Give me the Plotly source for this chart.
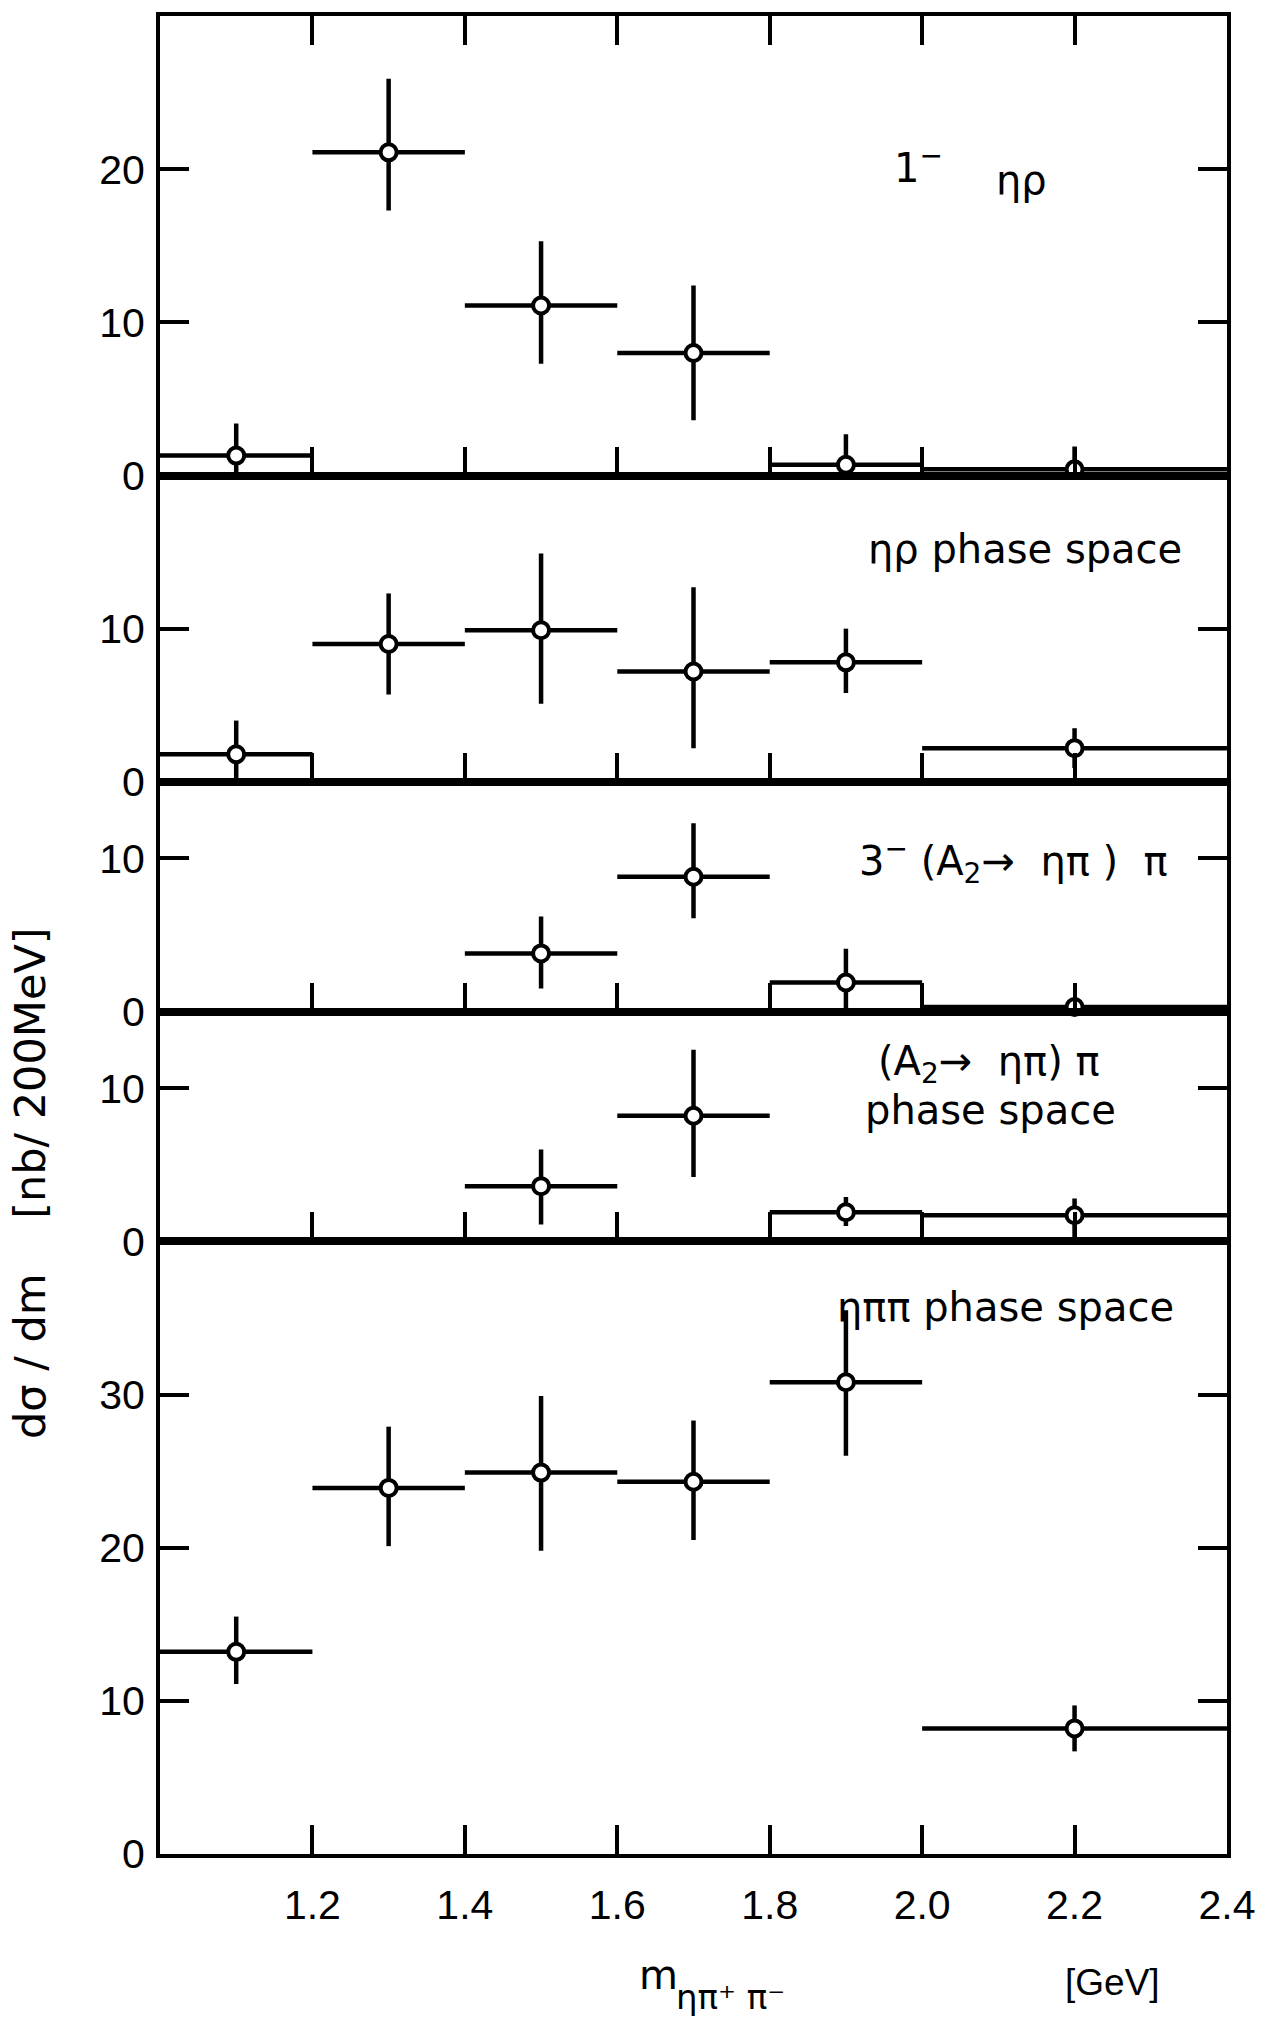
import plotly.graph_objects as go
from plotly.subplots import make_subplots

# ---- data ----
mass_all = [1.1, 1.3, 1.5, 1.7, 1.9, 2.2]
half_all = [0.1, 0.1, 0.1, 0.1, 0.1, 0.2]
mass_hi = [1.5, 1.7, 1.9, 2.2]
half_hi = [0.1, 0.1, 0.1, 0.2]

# panel 1: 1- eta rho
p1_y = [1.3, 21.1, 11.1, 8.0, 0.7, 0.4]
p1_up = [2.1, 4.8, 4.2, 4.4, 2.0, 1.5]
p1_dn = [1.3, 3.8, 3.8, 4.4, 0.7, 0.4]

# panel 2: eta rho phase space
p2_y = [1.8, 9.0, 9.9, 7.2, 7.8, 2.2]
p2_up = [2.2, 3.3, 5.0, 5.5, 2.2, 1.3]
p2_dn = [1.8, 3.3, 4.8, 5.0, 2.0, 1.3]

# panel 3: 3- (A2 -> eta pi) pi
p3_y = [3.8, 8.8, 1.9, 0.3]
p3_up = [2.4, 3.5, 2.2, 0.3]
p3_dn = [2.3, 2.7, 1.9, 0.3]

# panel 4: (A2 -> eta pi) pi phase space
p4_y = [3.6, 8.2, 1.9, 1.7]
p4_up = [2.4, 4.3, 1.0, 1.1]
p4_dn = [2.5, 4.0, 0.9, 1.7]

# panel 5: eta pi pi phase space
p5_y = [13.2, 23.9, 24.9, 24.3, 30.8, 8.2]
p5_up = [2.3, 4.0, 5.0, 4.0, 4.7, 1.5]
p5_dn = [2.1, 3.8, 5.1, 3.8, 4.8, 1.5]

x_tickvals = [1.2, 1.4, 1.6, 1.8, 2.0, 2.2, 2.4]
x_ticktext = ["1.2", "1.4", "1.6", "1.8", "2.0", "2.2", "2.4"]
y_ranges = [[0, 30], [0, 20], [0, 15], [0, 15], [0, 40]]
y_tickvals = [[0, 10, 20], [0, 10], [0, 10], [0, 10], [0, 10, 20, 30]]

panels = [
    (mass_all, half_all, p1_y, p1_up, p1_dn),
    (mass_all, half_all, p2_y, p2_up, p2_dn),
    (mass_hi, half_hi, p3_y, p3_up, p3_dn),
    (mass_hi, half_hi, p4_y, p4_up, p4_dn),
    (mass_all, half_all, p5_y, p5_up, p5_dn),
]

fig = make_subplots(rows=5, cols=1, shared_xaxes=True, vertical_spacing=0,
                    row_heights=[30, 20, 15, 15, 40])

for i, (mx, hw, yy, up, dn) in enumerate(panels):
    fig.add_trace(go.Scatter(
        x=mx, y=yy, mode="markers",
        marker=dict(symbol="circle", size=16, color="white",
                    line=dict(color="black", width=4)),
        error_x=dict(type="data", array=hw, symmetric=True,
                     color="black", thickness=4.5, width=0),
        error_y=dict(type="data", array=up, arrayminus=dn, symmetric=False,
                     color="black", thickness=4.5, width=0),
        showlegend=False, cliponaxis=False,
    ), row=i + 1, col=1)

tick_font = dict(family="Liberation Sans, Arial, sans-serif", size=41, color="black")
for r in range(1, 6):
    fig.update_xaxes(
        row=r, col=1, range=[1.0, 2.40001], tickvals=x_tickvals, ticktext=x_ticktext,
        ticks="inside", ticklen=29, tickwidth=4, tickcolor="black",
        showline=True, linewidth=4, linecolor="black",
        mirror="ticks" if r == 1 else True,
        showgrid=False, zeroline=False, showticklabels=(r == 5),
        tickfont=tick_font, ticklabelstandoff=12, ticklabeloverflow="allow",
    )
    fig.update_yaxes(
        row=r, col=1, range=y_ranges[r - 1], tickvals=y_tickvals[r - 1],
        ticks="inside", ticklen=29, tickwidth=4, tickcolor="black",
        showline=True, linewidth=4, linecolor="black", mirror="ticks",
        showgrid=False, zeroline=False, tickfont=tick_font,
        ticklabelstandoff=3,
    )

ann_font = dict(family="DejaVu Sans, sans-serif", size=40, color="black")
annotations = [
    dict(x=1.995, y=20.3, xref="x", yref="y", text="1<sup>−</sup>"),
    dict(x=2.13, y=19.3, xref="x", yref="y", text="ηρ"),
    dict(x=2.135, y=15.2, xref="x2", yref="y2", text="ηρ phase space"),
    dict(x=2.12, y=9.8, xref="x3", yref="y3", text="3<sup>−</sup> (A<sub>2</sub>→  ηπ )  π"),
    dict(x=2.088, y=11.6, xref="x4", yref="y4", text="(A<sub>2</sub>→  ηπ) π"),
    dict(x=2.09, y=8.6, xref="x4", yref="y4", text="phase space"),
    dict(x=2.11, y=35.7, xref="x5", yref="y5", text="ηππ phase space"),
    dict(x=-0.122, y=0.365, xref="paper", yref="paper", text="dσ / dm    [nb/ 200MeV]",
         textangle=-90, font=dict(family="DejaVu Sans, sans-serif", size=43, color="black")),
    dict(x=0.467, y=-0.066, xref="paper", yref="paper", text="m"),
    dict(x=0.535, y=-0.078, xref="paper", yref="paper", text="ηπ⁺ π⁻",
         font=dict(family="DejaVu Sans, sans-serif", size=34, color="black")),
    dict(x=0.893, y=-0.070, xref="paper", yref="paper", text="[GeV]",
         font=dict(family="Liberation Sans, Arial, sans-serif", size=37, color="black")),
]
for a in annotations:
    a.setdefault("font", ann_font)
    a.update(showarrow=False, xanchor="center", yanchor="middle")

fig.update_layout(
    width=1267, height=2033,
    margin=dict(l=160, r=22, t=12, b=179),
    paper_bgcolor="white", plot_bgcolor="white",
    showlegend=False, annotations=annotations,
)

fig.write_html("out.html")
